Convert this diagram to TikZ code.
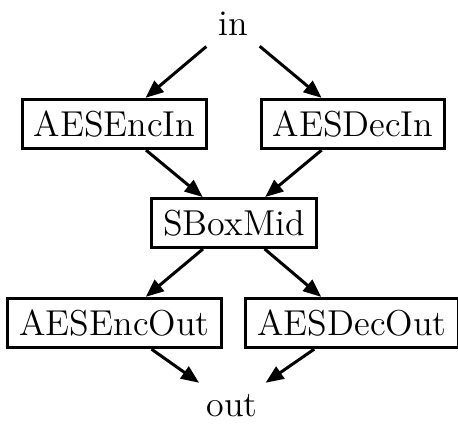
\documentclass[tikz,border=0pt]{standalone}
\usetikzlibrary{arrows.meta}
\begin{document}
\begin{tikzpicture}[x=0.3333pt,y=-0.3333pt,
  every node/.style={font=\large},
  box/.style={draw,line width=1pt,inner xsep=3.9pt,inner ysep=3.8pt},
  plain/.style={inner sep=3.8pt},
  edge/.style={line width=1pt,-{Triangle[length=6pt,width=4.8pt]}}]
\useasboundingbox (0,0) rectangle (458,437);
\node[plain] (in)     at (233,24)  {in};
\node[box]   (encin)  at (114.5,124) {AESEncIn};
\node[box]   (decin)  at (353,124) {AESDecIn};
\node[box]   (sbox)   at (234,223) {SBoxMid};
\node[box]   (encout) at (114.5,323) {AESEncOut};
\node[box]   (decout) at (352,323) {AESDecOut};
\node[plain] (out)    at (232,406) {out};
\draw[edge] (in) -- (encin);
\draw[edge] (in) -- (decin);
\draw[edge] (encin) -- (sbox);
\draw[edge] (decin) -- (sbox);
\draw[edge] (sbox) -- (encout);
\draw[edge] (sbox) -- (decout);
\draw[edge] (encout) -- (out);
\draw[edge] (decout) -- (out);
\end{tikzpicture}
\end{document}
